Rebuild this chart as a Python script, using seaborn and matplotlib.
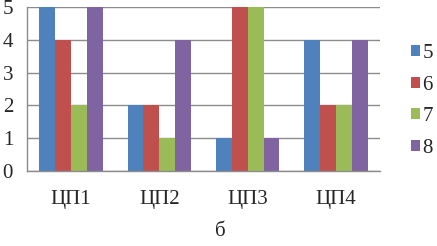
import numpy as np
import pandas as pd
import matplotlib
matplotlib.use("Agg")
import matplotlib.pyplot as plt
import seaborn as sns

categories = ["ЦП1", "ЦП2", "ЦП3", "ЦП4"]
series = ["5", "6", "7", "8"]
s5 = [5, 2, 1, 4]
s6 = [4, 2, 5, 2]
s7 = [2, 1, 5, 2]
s8 = [5, 4, 1, 4]
colors = ["#4F81BD", "#C0504D", "#9BBB59", "#8064A2"]

rows = []
for name, vals in zip(series, [s5, s6, s7, s8]):
    for c, v in zip(categories, vals):
        rows.append({"cat": c, "series": name, "value": v})
df = pd.DataFrame(rows)

sns.set_style("white")
plt.rcParams["font.family"] = ["Liberation Serif", "DejaVu Serif"]

fig = plt.figure(figsize=(4.37, 2.46), dpi=100)
ax = fig.add_axes([27 / 437, 75 / 246, 353 / 437, 164 / 246])

sns.barplot(data=df, x="cat", y="value", hue="series", palette=colors,
            width=0.72, gap=0, saturation=1, linewidth=0, ax=ax, legend=True)

ax.set_ylim(0, 5)
ax.set_xlim(-0.5, 3.5)
ax.set_yticks(range(6))
ax.yaxis.grid(True, color="#8c8c8c", linewidth=1)
ax.set_axisbelow(True)
for s in ["top", "right"]:
    ax.spines[s].set_visible(False)
for s in ["left", "bottom"]:
    ax.spines[s].set_color("#8c8c8c")
    ax.spines[s].set_linewidth(1)
ax.set_xlabel("")
ax.set_ylabel("")
ax.tick_params(axis="x", which="major", length=0, labelsize=15, pad=14)
ax.set_xticks(np.arange(-0.5, 4, 1), minor=True)
ax.tick_params(axis="x", which="minor", length=4, color="#8c8c8c", direction="out")
ax.tick_params(axis="y", length=5, color="#8c8c8c", labelsize=15, pad=5)

handles, labels = ax.get_legend_handles_labels()
ax.legend(handles, labels, loc="center left",
          bbox_to_anchor=(411 / 437, 1 - 101 / 246), bbox_transform=fig.transFigure,
          frameon=False, fontsize=15, handlelength=0.45, handleheight=0.45,
          handletextpad=0.1, labelspacing=0.6, borderaxespad=0, borderpad=0)

fig.text(220 / 437, 1 - 232 / 246, "б", ha="center", va="center", fontsize=15)

fig.savefig("out.png", dpi=100)
